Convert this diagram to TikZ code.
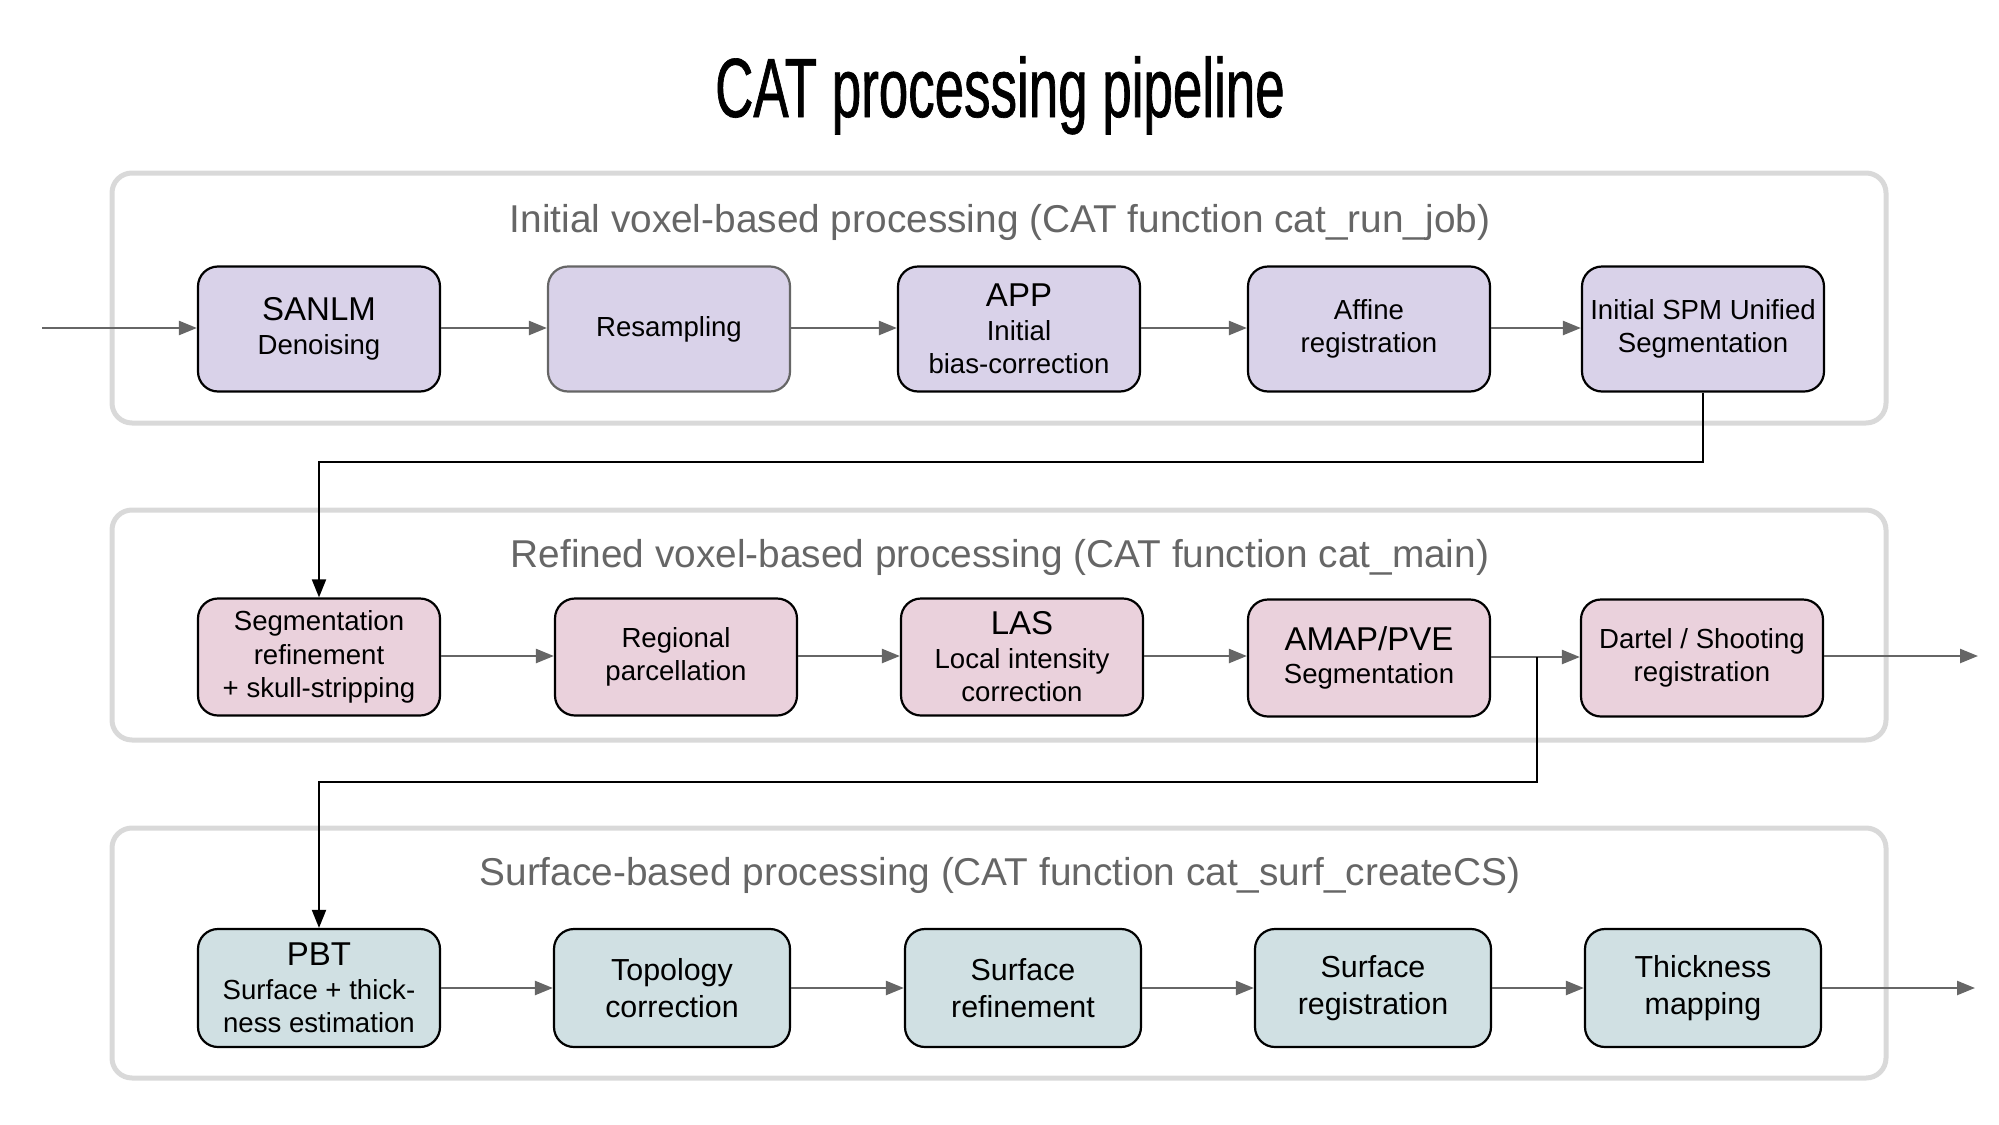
\documentclass[tikz,border=0pt]{standalone}
\usepackage{fontspec}
\setmainfont{Liberation Sans}
\newfontfamily\titlefont[FakeStretch=0.63, FakeBold=0.8]{Liberation Sans}
\usetikzlibrary{arrows.meta}
\definecolor{catgray}{RGB}{102,102,102}
\definecolor{catframe}{RGB}{217,217,217}
\definecolor{catlav}{RGB}{217,210,233}
\definecolor{catpink}{RGB}{234,209,220}
\definecolor{catcyan}{RGB}{208,224,227}
\newcommand\stagebig{\fontsize{16.5}{19}\selectfont}
\newcommand\stagesmall{\fontsize{13.8}{16.8}\selectfont}
\newcommand\stagesurf{\fontsize{15.2}{18.6}\selectfont}

\tikzset{
  stage/.style={draw=black, line width=1.1pt, rounded corners=10pt, align=center,
    minimum width=121pt, inner sep=2pt, font=\stagesmall},
  voxstage/.style={stage, fill=catlav, minimum height=62.5pt},
  refstage/.style={stage, fill=catpink, minimum height=58.5pt},
  surfstage/.style={stage, fill=catcyan, minimum height=59pt, minimum width=118pt, font=\stagesurf},
  group/.style={draw=catframe, line width=2.5pt, rounded corners=10pt},
  grouptitle/.style={text=catgray, font=\fontsize{19.4}{22}\selectfont},
  flow/.style={draw=catgray, line width=1.2pt, -{Triangle[length=9pt,width=7pt]}},
  link/.style={draw=black, line width=1pt, -{Triangle[length=9pt,width=7pt]}},
}

\begin{document}
\begin{tikzpicture}[x=0.5pt, y=-0.5pt]
  \useasboundingbox (0,0) rectangle (1999,1125);

  % Title
  \node[font=\titlefont\fontsize{42}{48}\selectfont, anchor=base] (title) at (1000,117) {CAT processing pipeline};

  % Group frames
  \draw[group] (112,173) rectangle (1886,423);
  \draw[group] (112,510) rectangle (1886,740);
  \draw[group] (112,828) rectangle (1886,1078);
  \node[grouptitle] (g1) at (1000,222) {Initial voxel-based processing (CAT function cat\_run\_job)};
  \node[grouptitle] (g2) at (1000,557) {Refined voxel-based processing (CAT function cat\_main)};
  \node[grouptitle] (g3) at (1000,875) {Surface-based processing (CAT function cat\_surf\_createCS)};

  % Initial voxel-based stages
  \node[voxstage] (sanlm) at (319,329) {{\stagebig SANLM}\\Denoising};
  \node[voxstage, draw=catgray] (resamp) at (669,329) {Resampling};
  \node[voxstage] (app) at (1019,329) {{\stagebig APP}\\Initial\\bias-correction};
  \node[voxstage] (affine) at (1369,329) {Affine\\registration};
  \node[voxstage] (spm) at (1703,329) {Initial SPM Unified\\Segmentation};

  % Refined voxel-based stages
  \node[refstage] (segref) at (319,657) {Segmentation\\refinement\\+ skull-stripping};
  \node[refstage] (parc) at (676,657) {Regional\\parcellation};
  \node[refstage] (las) at (1022,657) {{\stagebig LAS}\\Local intensity\\correction};
  \node[refstage] (amap) at (1369,658) {{\stagebig AMAP/PVE}\\Segmentation};
  \node[refstage] (dartel) at (1702,658) {Dartel / Shooting\\registration};

  % Surface-based stages
  \node[surfstage, minimum width=121pt, font=\stagesmall] (pbt) at (319,988) {{\stagebig PBT}\\Surface + thick-\\ness estimation};
  \node[surfstage] (topo) at (672,988) {Topology\\correction};
  \node[surfstage] (surfref) at (1023,988) {Surface\\refinement};
  \node[surfstage] (surfreg) at (1373,988) {Surface\\registration};
  \node[surfstage] (thick) at (1703,988) {Thickness\\mapping};

  % Free ends
  \coordinate (input) at (42,328);
  \coordinate (out1) at (1978,656);
  \coordinate (out2) at (1975,988);
  \coordinate (split) at (1537,657);

  % Flow inside the groups
  \draw[flow] (input) -- (sanlm.west |- input);
  \draw[flow] (sanlm.east |- input) -- (resamp.west |- input);
  \draw[flow] (resamp.east |- input) -- (app.west |- input);
  \draw[flow] (app.east |- input) -- (affine.west |- input);
  \draw[flow] (affine.east |- input) -- (spm.west |- input);
  \draw[flow] (segref.east |- out1) -- (parc.west |- out1);
  \draw[flow] (parc.east |- out1) -- (las.west |- out1);
  \draw[flow] (las.east |- out1) -- (amap.west |- out1);
  \draw[flow] (amap.east |- split) -- (dartel.west |- split);
  \draw[flow] (dartel.east |- out1) -- (out1);
  \draw[flow] (pbt.east |- out2) -- (topo.west |- out2);
  \draw[flow] (topo.east |- out2) -- (surfref.west |- out2);
  \draw[flow] (surfref.east |- out2) -- (surfreg.west |- out2);
  \draw[flow] (surfreg.east |- out2) -- (thick.west |- out2);
  \draw[flow] (thick.east |- out2) -- (out2);

  % Links between the groups
  \draw[link] (spm.south) -- ++(0,69) -| (segref.north);
  \draw[link] (split) -- ++(0,125) -| (pbt.north);
\end{tikzpicture}
\end{document}
